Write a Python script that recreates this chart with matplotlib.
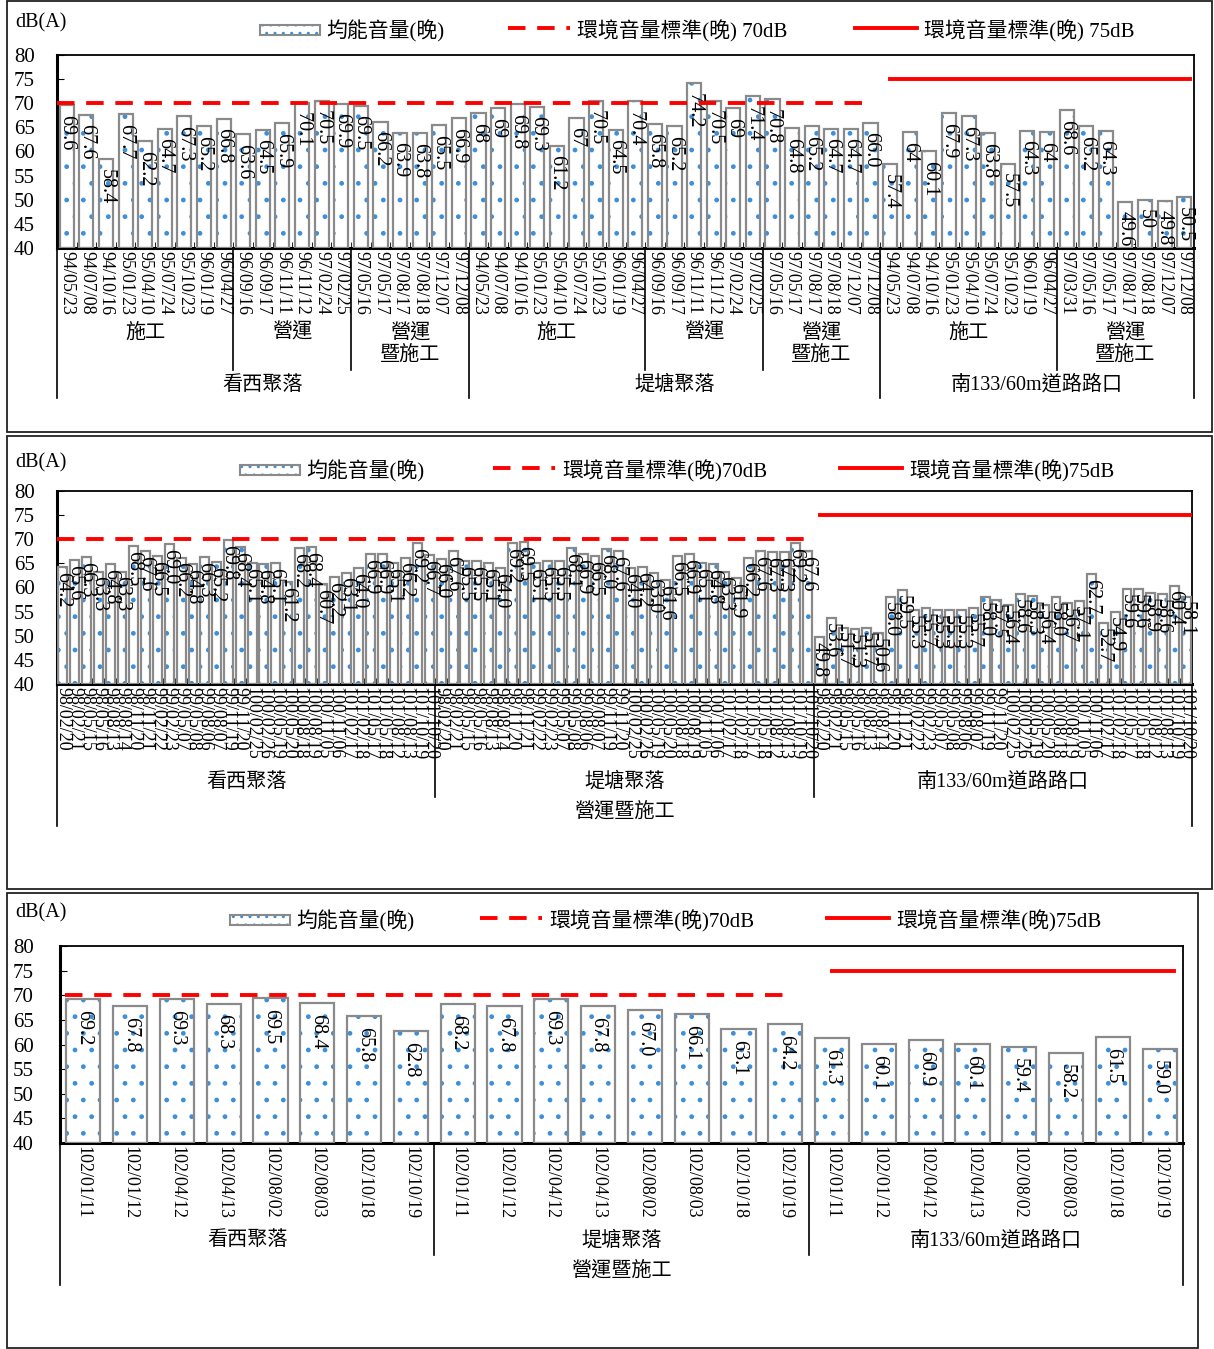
import matplotlib
matplotlib.use("Agg")
import matplotlib.pyplot as plt
from matplotlib.patches import Rectangle

plt.rcParams['font.family'] = ['Liberation Serif', 'Noto Sans CJK TC', 'DejaVu Sans']

W, H = 1214, 1349

# ---------------- data: panel 1 ----------------
p1_groups = ['看西聚落', '堤塘聚落', '南133/60m道路路口']
p1_dates_a = ['94/05/23', '94/07/08', '94/10/16', '95/01/23', '95/04/10', '95/07/24',
              '95/10/23', '96/01/19', '96/04/27',
              '96/09/16', '96/09/17', '96/11/11', '96/11/12', '97/02/24', '97/02/25',
              '97/05/16', '97/05/17', '97/08/17', '97/08/18', '97/12/07', '97/12/08']
p1_dates_c = ['94/05/23', '94/07/08', '94/10/16', '95/01/23', '95/04/10', '95/07/24',
              '95/10/23', '96/01/19', '96/04/27',
              '97/03/31', '97/05/16', '97/05/17', '97/08/17', '97/08/18', '97/12/07', '97/12/08']
p1_dates = p1_dates_a + p1_dates_a + p1_dates_c
p1_labels = ['69.6', '67.6', '58.4', '67.7', '62.2', '64.7', '67.3', '65.2', '66.8',
             '63.6', '64.5', '65.9', '70.1', '70.5', '69.9',
             '69.5', '66.2', '63.9', '63.8', '65.5', '66.9',
             '68', '69', '69.8', '69.3', '61.2', '67', '70.5', '64.5', '70.4',
             '65.8', '65.2', '74.2', '70.5', '69', '71.4',
             '70.8', '64.8', '65.2', '64.7', '64.7', '66.0',
             '57.4', '64', '60.1', '67.9', '67.3', '63.8', '57.5', '64.3', '64',
             '68.6', '65.2', '64.3', '49.6', '50', '49.8', '50.5']
p1_values = [float(s) for s in p1_labels]
# sub-periods: (label, first index, last index)
p1_phases = [('施工', 0, 8), ('營運', 9, 14), ('營運\n暨施工', 15, 20),
             ('施工', 21, 29), ('營運', 30, 35), ('營運\n暨施工', 36, 41),
             ('施工', 42, 50), ('營運\n暨施工', 51, 57)]

# ---------------- data: panel 2 ----------------
p2_groups = ['看西聚落', '堤塘聚落', '南133/60m道路路口']
p2_dates_one = ['98/02/20', '98/02/21', '98/05/15', '98/05/16', '98/08/13', '98/08/14',
                '98/11/20', '98/11/21', '99/02/22', '99/02/23', '99/05/07', '99/05/08',
                '99/08/06', '99/08/07', '99/11/19', '99/11/20',
                '100/02/25', '100/02/26', '100/05/19', '100/05/20', '100/08/18', '100/08/19',
                '100/11/05', '100/11/06', '101/02/17', '101/02/18', '101/05/17', '101/05/18',
                '101/08/12', '101/08/13', '101/10/19', '101/10/20']
p2_dates = p2_dates_one * 3
p2_values = [64.2, 65.6, 66.3, 63.3, 64.8, 63.3, 68.5, 67.6, 66.5, 69.0, 66.2, 64.8,
             66.3, 65.2, 69.8, 68.4, 65.1, 64.8, 65.1, 61.2, 68.2, 68.4, 60.7, 62.2,
             63.1, 64.0, 66.9, 66.9, 65.1, 66.2, 69.2, 66.7,
             66.0, 67.6, 65.5, 65.5, 65.1, 64.0, 69.2, 69.5, 65.1, 65.5, 65.5, 68.1,
             66.9, 66.5, 68.0, 67.6, 64.0, 64.2, 63.0, 61.6, 66.5, 66.9, 65.1, 64.8,
             63.3, 61.9, 66.2, 67.6, 67.3, 67.3, 69.2, 67.6,
             49.8, 53.6, 51.7, 51.3, 51.7, 50.6, 58.0, 59.5, 55.3, 55.7, 55.3, 55.3,
             55.3, 55.7, 58.0, 57.5, 56.4, 58.6, 58.3, 56.4, 58.0, 56.7, 57.1, 62.7,
             52.7, 54.9, 59.6, 59.6, 58.9, 58.6, 60.4, 58.1]

# ---------------- data: panel 3 ----------------
p3_groups = ['看西聚落', '堤塘聚落', '南133/60m道路路口']
p3_dates_one = ['102/01/11', '102/01/12', '102/04/12', '102/04/13',
                '102/08/02', '102/08/03', '102/10/18', '102/10/19']
p3_dates = p3_dates_one * 3
p3_values = [69.2, 67.8, 69.3, 68.3, 69.5, 68.4, 65.8, 62.8,
             68.2, 67.8, 69.3, 67.8, 67.0, 66.1, 63.1, 64.2,
             61.3, 60.1, 60.9, 60.1, 59.4, 58.2, 61.5, 59.0]

std_night_a = 70
std_night_b = 75

BAR_EDGE = '#8a8a8a'
DOT = '#3d8fd8'
RED = '#ff0000'

fig = plt.figure(figsize=(W / 100, H / 100), dpi=100)

# overlay in pixel coordinates for frames and legends
ov = fig.add_axes([0, 0, 1, 1])
ov.set_xlim(0, W)
ov.set_ylim(H, 0)
ov.axis('off')
for (x0, y0, w, h) in [(7, 1, 1205, 431), (7, 436, 1205, 453), (7, 893, 1191, 455)]:
    ov.add_patch(Rectangle((x0, y0), w, h, fill=False, ec='#222222', lw=1.3))


def legend(y, xs, space):
    xp, xd, xs_ = xs
    ov.text(15, y - 7, 'dB(A)', fontsize=14.5, va='center', ha='left')
    ov.add_patch(Rectangle((xp, y - 5), 60, 10, facecolor='white', edgecolor=DOT, hatch='..', lw=0))
    ov.add_patch(Rectangle((xp, y - 5), 60, 10, fill=False, edgecolor=BAR_EDGE, lw=1.5))
    ov.text(xp + 66, y + 1, '均能音量(晚)', fontsize=15, va='center')
    ov.plot([xd, xd + 62], [y - 2, y - 2], color=RED, lw=2.8, ls=(0, (4.5, 3)))
    ov.text(xd + 69, y + 1, '環境音量標準(晚)' + space + '70dB', fontsize=15, va='center')
    ov.plot([xs_, xs_ + 62], [y - 2, y - 2], color=RED, lw=2.8)
    ov.text(xs_ + 69, y + 1, '環境音量標準(晚)' + space + '75dB', fontsize=15, va='center')


legend(30, (260, 508, 855), ' ')
legend(470, (240, 493, 840), '')
legend(920, (230, 480, 827), '')


def make_axes(l, t, r, b):
    return fig.add_axes([l / W, 1 - b / H, (r - l) / W, (b - t) / H])


def draw_panel(ax, values, labels, dates, n_per_group, width, lab_off, date_fs, ticks_between, ypad):
    n = len(values)
    x = list(range(n))
    ax.bar(x, [v - 40 for v in values], bottom=40, width=width, color='white',
           edgecolor=DOT, hatch='.', linewidth=0, zorder=2)
    ax.bar(x, [v - 40 for v in values], bottom=40, width=width, fill=False,
           edgecolor=BAR_EDGE, linewidth=1.6, zorder=3)
    for xi, v, s in zip(x, values, labels):
        ax.text(xi, v - lab_off, s, rotation=270, ha='center', va='top',
                fontsize=14.5, zorder=4)
    n12 = n_per_group[0] + n_per_group[1]
    ax.plot([-0.5 if ticks_between else -0.4, n12 - 1], [std_night_a] * 2,
            color=RED, lw=2.8, ls=(0, (4.5, 3)), zorder=5)
    ax.plot([n12, n - 1 + 0.3], [std_night_b] * 2, color=RED, lw=2.8, zorder=5)
    ax.set_xlim(-0.5, n - 0.5)
    ax.set_ylim(40, 80)
    ax.set_yticks(range(40, 81, 5))
    ax.tick_params(axis='y', direction='in', length=5, labelsize=15, pad=ypad)
    ax.set_xticks(x)
    ax.set_xticklabels(dates, rotation=270, fontsize=date_fs)
    ax.tick_params(axis='x', length=0, pad=2)
    if ticks_between:
        ax.set_xticks([k + 0.5 for k in range(n - 1)], minor=True)
        ax.tick_params(axis='x', which='minor', direction='in', length=4)
    for sp in ax.spines.values():
        sp.set_linewidth(1.3)
    ax.spines['bottom'].set_linewidth(2.2)
    ax.spines['left'].set_linewidth(2.2)
    return n12


def vline(ax, xv, y_bottom):
    ax.plot([xv, xv], [0, y_bottom], color='black', lw=1.2,
            transform=ax.get_xaxis_transform(), clip_on=False)


def xtext(ax, xv, y, s):
    ax.text(xv, y, s, transform=ax.get_xaxis_transform(), ha='center', va='center',
            fontsize=14.5, linespacing=1.2)


# ---------------- panel 1 ----------------
ax1 = make_axes(57, 55, 1194, 248)
npg1 = [21, 21, 16]
draw_panel(ax1, p1_values, p1_labels, p1_dates, npg1, 0.72, 2.0, 13, True, 16)
bounds = [-0.5, 20.5, 41.5, 57.5]
for b in bounds:
    vline(ax1, b, -0.777)
for name, a, b in p1_phases:
    if a > 0 and (a - 0.5) not in bounds:
        vline(ax1, a - 0.5, -0.632)
    xtext(ax1, (a + b) / 2, -0.50 if '\n' in name else -0.44, name)
for g, name in enumerate(p1_groups):
    xtext(ax1, (bounds[g] + bounds[g + 1]) / 2, -0.71, name)

# ---------------- panel 2 ----------------
ax2 = make_axes(57, 491, 1192, 684)
p2_labels = ['%.1f' % v for v in p2_values]
draw_panel(ax2, p2_values, p2_labels, p2_dates, [32, 32, 32], 0.75, 1.0, 13, True, 16)
b2 = [-0.5, 31.5, 63.5, 95.5]
for i, b in enumerate(b2):
    vline(ax2, b, -0.736 if i in (0, 3) else -0.585)
for g, name in enumerate(p2_groups):
    xtext(ax2, (b2[g] + b2[g + 1]) / 2, -0.508, name)
xtext(ax2, 47.5, -0.663, '營運暨施工')

# ---------------- panel 3 ----------------
ax3 = make_axes(60, 946, 1183, 1143)
p3_labels = ['%.1f' % v for v in p3_values]
draw_panel(ax3, p3_values, p3_labels, p3_dates, [8, 8, 8], 0.73, 2.2, 13, False, 19)
b3 = [-0.5, 7.5, 15.5, 23.5]
for i, b in enumerate(b3):
    vline(ax3, b, -0.721 if i in (0, 3) else -0.569)
for g, name in enumerate(p3_groups):
    xtext(ax3, (b3[g] + b3[g + 1]) / 2, -0.497, name)
xtext(ax3, 11.5, -0.65, '營運暨施工')

fig.savefig('out.png', dpi=100)
